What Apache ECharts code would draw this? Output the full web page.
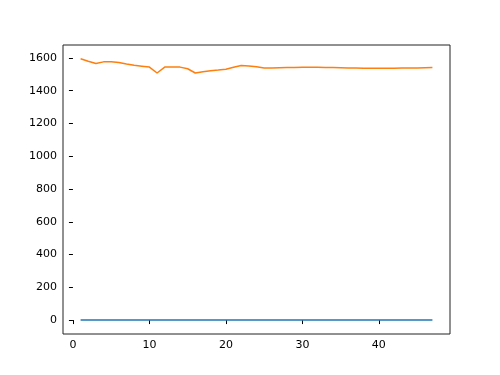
<!DOCTYPE html>
<html>
<head>
<meta charset="utf-8">
<script src="https://cdn.jsdelivr.net/npm/echarts@6/dist/echarts.min.js"></script>
<style>
  html, body { margin: 0; padding: 0; background: #fff; }
  #chart { width: 500px; height: 375px; }
</style>
</head>
<body>
<div id="chart"></div>
<script>
// x positions (1..47)
var steps = [];
for (var i = 1; i <= 47; i++) steps.push(i);

// lower series, sits on zero
var lowValues = [
  1, 1, 1, 1, 1, 1, 1, 1, 1, 1,
  1, 1, 1, 1, 1, 1, 1, 1, 1, 1,
  1, 1, 1, 1, 1, 1, 1, 1, 1, 1,
  1, 1, 1, 1, 1, 1, 1, 1, 1, 1,
  1, 1, 1, 1, 1, 1, 1
];

// upper series
var highValues = [
  1595, 1580, 1566, 1576, 1577, 1572, 1563, 1555, 1550, 1544,
  1508, 1544, 1545, 1544, 1534, 1508, 1516, 1522, 1526, 1531,
  1543, 1554, 1551, 1546, 1538, 1539, 1540, 1541, 1542, 1543,
  1543, 1543, 1542, 1541, 1540, 1539, 1538, 1537, 1537, 1537,
  1537, 1537, 1538, 1538, 1539, 1540, 1541
];

var xTicks = [0, 10, 20, 30, 40];
var yTicks = [0, 200, 400, 600, 800, 1000, 1200, 1400, 1600];

function pairs(xs, ys) {
  return xs.map(function (x, i) { return [x, ys[i]]; });
}

var labelStyle = {
  color: '#000',
  fontFamily: 'DejaVu Sans',
  fontSize: 11,
  formatter: function (v) { return String(v); }
};

var myChart = echarts.init(document.getElementById('chart'));

var option = {
  animation: false,
  backgroundColor: '#fff',
  grid: {
    left: 63, right: 50, top: 45, bottom: 41,
    show: true, borderColor: '#222', borderWidth: 1, backgroundColor: 'transparent'
  },
  xAxis: {
    type: 'value',
    min: -1.3,
    max: 49.3,
    splitLine: { show: false },
    axisLine: { show: false },
    axisTick: { show: true, length: 4, lineStyle: { color: '#000' }, customValues: xTicks },
    axisLabel: Object.assign({ margin: 6, customValues: xTicks }, labelStyle)
  },
  yAxis: {
    type: 'value',
    min: -85,
    max: 1679,
    splitLine: { show: false },
    axisLine: { show: false },
    axisTick: { show: true, length: 4, lineStyle: { color: '#000' }, customValues: yTicks },
    axisLabel: Object.assign({ margin: 6, customValues: yTicks }, labelStyle)
  },
  series: [
    {
      type: 'line',
      data: pairs(steps, lowValues),
      showSymbol: false,
      lineStyle: { color: '#1f77b4', width: 1.5 },
      itemStyle: { color: '#1f77b4' }
    },
    {
      type: 'line',
      data: pairs(steps, highValues),
      showSymbol: false,
      lineStyle: { color: '#ff7f0e', width: 1.5 },
      itemStyle: { color: '#ff7f0e' }
    }
  ]
};

myChart.setOption(option);
</script>
</body>
</html>
